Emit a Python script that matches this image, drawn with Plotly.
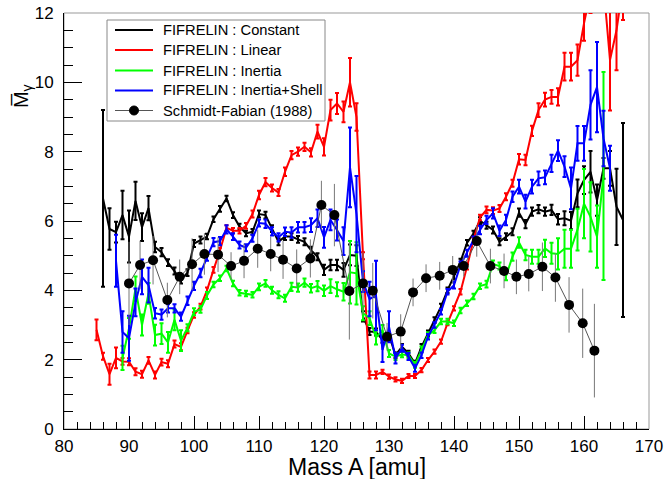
import plotly.graph_objects as go

# ---------------- data ----------------
mass_linear = list(range(85, 167))
linear_vals = [2.86, 2.1, 1.58, 2.05, 1.95, 1.94, 1.65, 1.58, 1.98, 1.56,
               1.93, 1.88, 2.45, 2.37, 2.84, 3.29, 3.53, 4.0, 4.59, 5.15,
               5.8, 5.72, 5.72, 5.86, 6.2, 6.75, 7.12, 6.95, 6.82, 7.42,
               7.9, 8.0, 8.14, 7.98, 8.58, 8.14, 9.2, 9.39, 9.15, 10.0,
               9.0, 5.0, 1.56, 1.56, 1.65, 1.51, 1.43, 1.39, 1.53, 1.53,
               1.7, 1.99, 2.23, 2.52, 3.05, 3.48, 3.96, 4.68, 5.45, 6.1,
               6.32, 6.3, 6.36, 6.7, 7.09, 7.78, 7.76, 8.6, 9.2, 9.5,
               9.58, 9.58, 10.45, 10.45, 10.64, 11.7, 12.6, 13.2, 12.8, 10.64,
               11.5, 12.8]
linear_err = [.3, .1, .3, .3, .1, .1, .1, .1, .1, .1,
              .1, .1, .1, .1, .08, .08, .08, .08, .08, .08,
              .08, .08, .08, .08, .1, .12, .12, .1, .1, .12,
              .12, .12, .12, .12, .2, .25, .3, .3, .3, .7,
              .4, .1, .1, .1, .06, .06, .06, .06, .06, .06,
              .06, .06, .06, .06, .06, .06, .08, .08, .08, .08,
              .1, .1, .1, .1, .1, .15, .15, .15, .2, .2,
              .2, .25, .4, .4, .45, .5, .6, .6, .6, 1.45,
              1.15, 1.0]

mass_constant = list(range(86, 167))
constant_vals = [6.65, 5.77, 5.68, 6.17, 5.55, 6.58, 5.82, 6.37, 5.25, 5.1,
                 4.8, 4.56, 4.3, 4.51, 5.35, 5.45, 5.55, 6.05, 6.35, 6.65,
                 6.17, 5.84, 5.64, 5.69, 6.2, 6.17, 5.78, 5.4, 5.55, 5.55,
                 5.47, 5.4, 5.16, 4.97, 4.59, 4.73, 4.73, 4.59, 5.02, 5.0,
                 3.25, 2.81, 2.8, 2.57, 2.71, 2.13, 2.37, 2.18, 1.89, 2.37,
                 2.76, 3.14, 3.53, 4.0, 4.39, 4.83, 5.37, 5.64, 6.01, 5.88,
                 5.74, 5.4, 5.55, 5.69, 6.24, 5.91, 6.27, 6.34, 6.27, 6.32,
                 6.05, 6.08, 6.01, 6.8, 7.18, 7.42, 6.6, 7.52, 7.52, 6.41,
                 6.03]
constant_err = [2.55, .6, .3, .7, .75, .55, .4, .35, .15, .12,
                .1, .1, .1, .1, .1, .1, .08, .08, .08, .08,
                .08, .08, .08, .08, .1, .1, .1, .1, .1, .1,
                .1, .1, .1, .1, .15, .15, .15, .2, .3, .3,
                .15, .1, .1, .08, .08, .08, .08, .08, .08, .08,
                .08, .08, .08, .08, .08, .08, .08, .08, .1, .1,
                .1, .1, .1, .1, .12, .12, .12, .12, .12, .15,
                .15, .2, .25, .4, .4, .6, .45, .3, .5, 1.1,
                2.8]

mass_shell = list(range(88, 165))
shell_vals = [4.85, 2.8, 2.62, 3.65, 4.39, 4.15, 3.34, 3.3, 3.48, 3.48,
              3.24, 3.7, 4.13, 4.5, 4.97, 5.39, 5.42, 5.76, 5.55, 5.31,
              5.23, 5.5, 5.94, 5.92, 5.7, 5.53, 5.69, 5.67, 5.82, 5.82,
              5.88, 6.08, 5.53, 6.03, 5.74, 5.42, 7.55, 6.2, 4.25, 3.75,
              3.85, 2.28, 2.95, 2.04, 2.33, 2.09, 1.75, 2.13, 2.66, 3.0,
              3.38, 3.96, 4.15, 4.73, 5.07, 5.45, 5.74, 6.03, 6.22, 5.72,
              6.03, 6.7, 6.99, 6.56, 6.99, 7.23, 7.26, 7.66, 8.03, 7.57,
              6.94, 8.24, 8.24, 9.35, 9.86, 8.38, 7.52]
shell_err = [.75, .6, .65, .4, .5, .5, .15, .15, .12, .12,
             .12, .12, .12, .12, .12, .12, .12, .12, .1, .1,
             .1, .1, .1, .12, .12, .12, .12, .15, .15, .15,
             .2, .25, .3, .3, .3, .4, 1.15, 1.1, .3, .5,
             1.0, .35, .45, .15, .1, .1, .1, .08, .08, .08,
             .08, .08, .1, .1, .1, .1, .12, .12, .15, .15,
             .15, .15, .2, .2, .2, .2, .2, .25, .3, .3,
             .6, .5, .5, 1.0, 1.3, .8, .65]

mass_inertia = list(range(89, 164))
inertia_vals = [2.05, 2.9, 4.05, 3.0, 3.91, 2.71, 2.75, 2.5, 3.15, 2.55,
                2.92, 3.38, 3.45, 3.85, 4.17, 4.35, 4.63, 4.2, 3.93, 3.91,
                3.87, 4.1, 4.2, 4.0, 3.87, 3.77, 4.1, 4.08, 4.22, 4.06,
                4.12, 3.99, 4.12, 4.03, 3.96, 4.52, 4.49, 3.34, 3.2, 2.64,
                2.85, 2.18, 2.09, 2.15, 2.13, 1.85, 2.3, 2.71, 2.85, 3.1,
                3.1, 3.05, 3.42, 3.63, 3.82, 4.12, 4.18, 4.76, 4.7, 4.41,
                4.97, 5.38, 5.02, 4.97, 4.97, 5.21, 5.07, 5.05, 5.2, 5.2,
                5.75, 6.5, 6.12, 5.55, 7.3]
inertia_err = [.35, .3, .35, .3, .3, .3, .3, .3, .3, .3,
               .1, .1, .1, .1, .08, .08, .08, .08, .08, .08,
               .08, .1, .1, .1, .1, .1, .12, .12, .12, .12,
               .15, .15, .2, .2, .25, .9, .9, .2, .2, .2,
               .15, .1, .1, .08, .08, .08, .08, .08, .08, .08,
               .08, .08, .08, .08, .08, .08, .1, .1, .1, .12,
               .12, .15, .15, .2, .2, .25, .3, .45, .55, .55,
               .6, 1.0, 1.0, .9, 3.0]

sf_mass = [90.0, 91.7, 93.7, 95.9, 97.8, 99.7, 101.6, 103.7, 105.7, 107.7,
           109.8, 111.8, 113.7, 115.8, 117.9, 119.6, 121.6, 123.9, 126.0, 127.5,
           129.7, 131.8, 133.7, 135.7, 137.8, 139.8, 141.5, 143.5, 145.6, 147.7,
           149.6, 151.5, 153.6, 155.6, 157.7, 159.8, 161.6]
sf_vals = [4.2, 4.73, 4.87, 3.72, 4.39, 4.75, 5.05, 5.03, 4.7, 4.85,
           5.2, 5.05, 4.88, 4.63, 4.92, 6.46, 6.17, 3.98, 4.2, 3.99,
           2.66, 2.81, 3.94, 4.35, 4.42, 4.59, 4.7, 5.42, 4.7, 4.56,
           4.39, 4.47, 4.68, 4.37, 3.58, 3.05, 2.26]
sf_err = [1.2, .7, .7, .5, .5, .75, .6, .5, .4, .5,
          .55, .5, .55, .55, .55, .7, .9, 1.4, .9, .8,
          .4, .5, .4, .4, .4, .4, .3, .45, .5, .5,
          .5, .5, .7, .7, .8, 1.0, 1.35]

x_ticks = [80, 90, 100, 110, 120, 130, 140, 150, 160, 170]
y_ticks = [0, 2, 4, 6, 8, 10, 12]

series_names = ["FIFRELIN : Constant", "FIFRELIN : Linear", "FIFRELIN : Inertia",
                "FIFRELIN : Inertia+Shell", "Schmidt-Fabian (1988)"]
series_colors = ["#000000", "#ff0000", "#00ff00", "#0000ff", "#555555"]

FONT = "Liberation Sans, Arial, sans-serif"

# plot-area geometry (pixels) used for the hand-placed legend box
W, H = 665, 479
ML, MR, MT, MB = 64, 16, 13, 50
PW, PH = W - ML - MR, H - MT - MB


def px_x(px):
    return (px - ML) / PW


def px_y(py):
    return (H - MB - py) / PH


fig = go.Figure()


def fifrelin(name, x, y, e, color):
    fig.add_trace(go.Scatter(
        x=x, y=y, name=name, mode="lines", showlegend=False,
        line=dict(color=color, width=2),
        error_y=dict(type="data", array=e, color=color, thickness=2, width=2),
    ))


fifrelin(series_names[0], mass_constant, constant_vals, constant_err, series_colors[0])
fifrelin(series_names[1], mass_linear, linear_vals, linear_err, series_colors[1])
fifrelin(series_names[2], mass_inertia, inertia_vals, inertia_err, series_colors[2])
fifrelin(series_names[3], mass_shell, shell_vals, shell_err, series_colors[3])

fig.add_trace(go.Scatter(
    x=sf_mass, y=sf_vals, name=series_names[4], mode="lines+markers", showlegend=False,
    line=dict(color=series_colors[4], width=1),
    marker=dict(color="black", size=10),
    error_y=dict(type="data", array=sf_err, color="#777777", thickness=1, width=0),
))

axis_common = dict(
    showgrid=False, zeroline=False, showline=True, linecolor="black", linewidth=1,
    ticks="inside", tickcolor="black", automargin=False,
    tickfont=dict(family=FONT, size=17, color="black"),
)

fig.update_xaxes(range=[80, 170], tickvals=x_ticks, ticklen=13, tickwidth=1,
                 minor=dict(dtick=2, ticks="inside", ticklen=7, tickcolor="black"),
                 ticklabelstandoff=2, **axis_common)
fig.update_yaxes(range=[0, 12], tickvals=y_ticks, ticklen=18, tickwidth=1,
                 minor=dict(dtick=0.5, ticks="inside", ticklen=9, tickcolor="black"),
                 ticklabelstandoff=6, **axis_common)

# frame (top / right in grey)
fig.add_shape(type="rect", xref="paper", yref="paper", x0=0, x1=1, y0=0, y1=1,
              line=dict(color="#999999", width=1), layer="below")

# ---------- legend box ----------
fig.add_shape(type="rect", xref="paper", yref="paper",
              x0=px_x(107), x1=px_x(325), y0=px_y(121), y1=px_y(20),
              line=dict(color="#888888", width=1), fillcolor="white", layer="above")
row_y = [30, 50, 70.5, 90.5, 110.5]
for name, color, ry in zip(series_names, series_colors, row_y):
    is_sf = name.startswith("Schmidt")
    fig.add_shape(type="line", xref="paper", yref="paper",
                  x0=px_x(115), x1=px_x(153), y0=px_y(ry), y1=px_y(ry),
                  line=dict(color=color, width=1 if is_sf else 2))
    if is_sf:
        fig.add_shape(type="circle", xref="paper", yref="paper",
                      xsizemode="pixel", ysizemode="pixel",
                      xanchor=px_x(134), yanchor=px_y(ry),
                      x0=-4.5, x1=4.5, y0=-4.5, y1=4.5,
                      fillcolor="black", line=dict(color="black", width=1))
    fig.add_annotation(text=name, xref="paper", yref="paper",
                       x=px_x(161), y=px_y(ry), xanchor="left", yanchor="middle",
                       showarrow=False,
                       font=dict(family=FONT, size=14.7, color="black"))

# axis titles
fig.add_annotation(text="Mass A [amu]", xref="paper", yref="paper", x=0.5, y=-0.092,
                   xanchor="center", yanchor="middle", showarrow=False,
                   font=dict(family=FONT, size=23, color="black"))
fig.add_annotation(text="M\u0305<sub>γ</sub>", xref="paper", yref="paper", x=-0.072, y=0.80,
                   xanchor="center", yanchor="middle", showarrow=False, textangle=-90,
                   font=dict(family=FONT, size=20, color="black"))

fig.update_layout(
    width=W, height=H,
    margin=dict(l=ML, r=MR, t=MT, b=MB, autoexpand=False),
    paper_bgcolor="white", plot_bgcolor="white",
    showlegend=False,
    font=dict(family=FONT),
)

fig.write_html("out.html", config={"displayModeBar": False},
               post_script="document.body.style.margin='0';")
